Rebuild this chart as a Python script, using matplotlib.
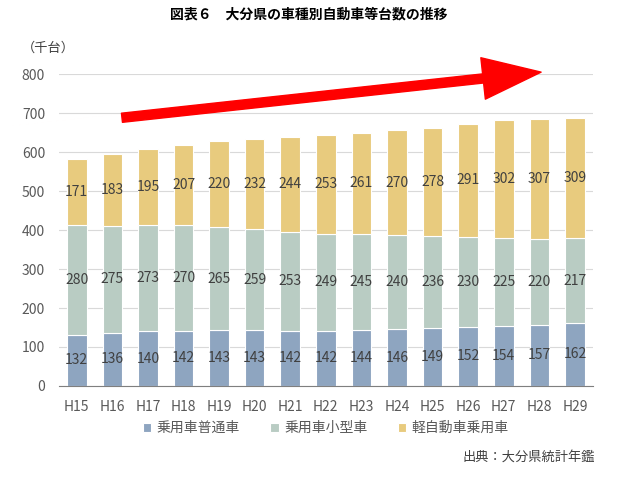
import matplotlib.pyplot as plt
import numpy as np

plt.rcParams['font.family'] = ['Noto Sans CJK JP', 'DejaVu Sans']

# データ
years = ['H15', 'H16', 'H17', 'H18', 'H19', 'H20', 'H21', 'H22',
         'H23', 'H24', 'H25', 'H26', 'H27', 'H28', 'H29']
futsu = [132, 136, 140, 142, 143, 143, 142, 142, 144, 146, 149, 152, 154, 157, 162]
kogata = [280, 275, 273, 270, 265, 259, 253, 249, 245, 240, 236, 230, 225, 220, 217]
kei = [171, 183, 195, 207, 220, 232, 244, 253, 261, 270, 278, 291, 302, 307, 309]
series_names = ['乗用車普通車', '乗用車小型車', '軽自動車乗用車']
colors = ['#8EA5C0', '#B9CCC3', '#E8CB7E']

x = np.arange(len(years))
width = 0.55

fig = plt.figure(figsize=(6.17, 4.78), dpi=100)
ax = fig.add_axes([0.0956, 0.1925, 0.865, 0.6525])

bottom = np.zeros(len(years))
for vals, name, c in zip([futsu, kogata, kei], series_names, colors):
    bars = ax.bar(x, vals, width, bottom=bottom, color=c, edgecolor='white',
                  linewidth=0.8, label=name, zorder=2)
    ax.bar_label(bars, labels=[str(v) for v in vals], label_type='center',
                 fontsize=10, color='#404040')
    bottom += np.array(vals)

ax.set_xlim(-0.5, len(years) - 0.5)
ax.set_ylim(0, 800)
ax.set_yticks(range(0, 801, 100))
ax.set_xticks(x, years)
ax.grid(axis='y', color='#D9D9D9', linewidth=0.8, zorder=0)
ax.set_axisbelow(True)
for s in ['top', 'right', 'left']:
    ax.spines[s].set_visible(False)
ax.spines['bottom'].set_color('#7F7F7F')
ax.tick_params(length=0, colors='#595959', labelsize=10, pad=10)

# 赤い矢印
ax.annotate('', xy=(13.05, 805), xytext=(1.27, 688), annotation_clip=False,
            arrowprops=dict(arrowstyle='simple,head_length=1.4,head_width=1.0,tail_width=0.22',
                            mutation_scale=30, color='#FF0000', shrinkA=0, shrinkB=0))

fig.text(0.5, 0.97, '図表６　大分県の車種別自動車等台数の推移', ha='center', va='center',
         fontsize=10, fontweight='bold', color='#000000')
fig.text(0.035, 0.90, '（千台）', ha='left', va='center', fontsize=9.5, color='#404040')

ax.legend(loc='center', bbox_to_anchor=(0.5, -0.135), ncol=3, frameon=False,
          fontsize=10, handlelength=0.6, handleheight=0.6, columnspacing=2.2,
          handletextpad=0.4, labelcolor='#595959')

fig.text(0.965, 0.043, '出典：大分県統計年鑑', ha='right', va='center',
         fontsize=9.5, color='#404040')

plt.savefig('out.png', dpi=100)
